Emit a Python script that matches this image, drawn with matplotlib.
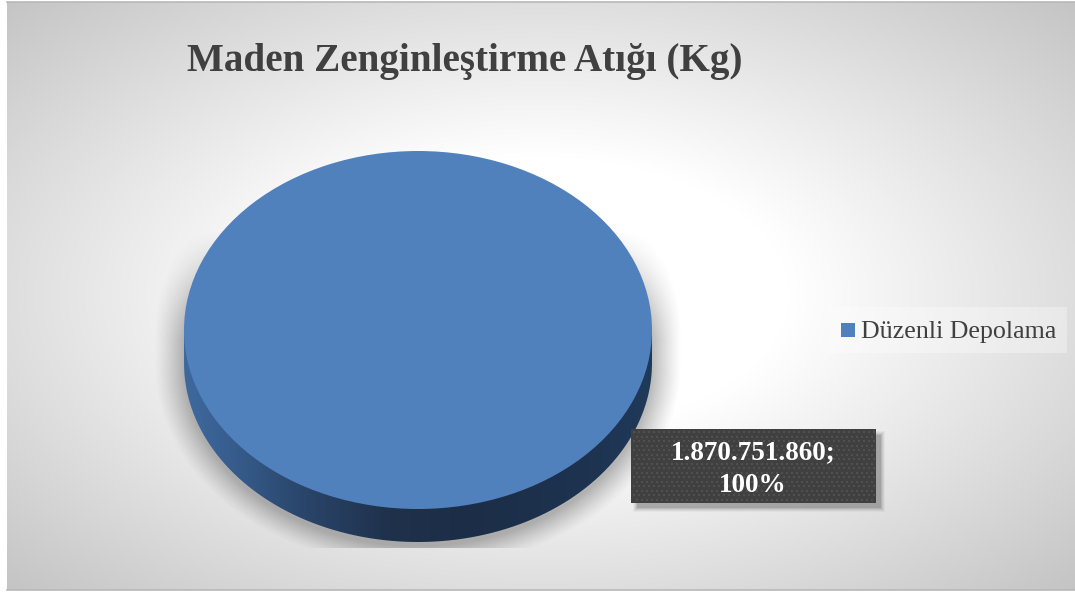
import numpy as np
import matplotlib
matplotlib.use("Agg")
import matplotlib.pyplot as plt
from matplotlib.patches import Rectangle, PathPatch
from matplotlib.path import Path

title = "Maden Zenginleştirme Atığı (Kg)"
categories = ["Düzenli Depolama"]
values = [1870751860]
percent_labels = ["100%"]
value_labels = ["1.870.751.860"]

W, H = 1075, 592
fig = plt.figure(figsize=(W / 100, H / 100), dpi=100, facecolor="white")
bg = fig.add_axes([0, 0, 1, 1])
bg.set_xlim(0, W)
bg.set_ylim(H, 0)
bg.axis("off")

# radial chart-area background
X, Y = np.meshgrid(np.arange(W) + .5, np.arange(H) + .5)
d = np.sqrt(((X - 541) / 534) ** 2 + ((Y - 295) / 295) ** 2) / np.sqrt(2)
g = 1 - np.clip((d - .33) / .67, 0, 1) * (1 - 0xc4 / 255)
rgb = np.dstack([g, g, g])
im = bg.imshow(rgb, extent=(0, W, H, 0), aspect="auto", zorder=0, interpolation="bilinear")
area = Rectangle((7, 1.5), W - 7 + 5, 588.5, transform=bg.transData, fc="none", ec="none")
bg.add_patch(area)
im.set_clip_path(area)
bg.plot([7, W], [1.5, 1.5], color="#b8b8b8", lw=1.2, zorder=1)
bg.plot([7, W], [590, 590], color="#b8b8b8", lw=1.2, zorder=1)

# pie geometry in pixels
cx, cy, rx, ry, depth = 418, 330, 234, 179, 33

# soft shadow under the disc
dy = Y - np.clip(Y, cy, cy + depth + 4)
r = np.sqrt(((X - cx) / rx) ** 2 + (dy / ry) ** 2)
sh = np.clip(1 - (r - 1) / .125, 0, 1) ** 1.2 * .36
sh *= np.clip((Y - 230) / 110, 0, 1)
sh[Y > 548] = 0
sa = np.zeros((H, W, 4))
sa[..., :3] = .25
sa[..., 3] = sh
bg.imshow(sa, extent=(0, W, H, 0), aspect="auto", zorder=2, interpolation="bilinear")

# extruded side of the pie with horizontal gradient
t = np.linspace(cx - rx, cx + rx, 468)
stops_x = [cx - rx, 235, 300, 390, 470, 590, cx + rx]
stops_r = [0x3f, 0x36, 0x2a, 0x1f, 0x1c, 0x1d, 0x20]
stops_g = [0x69, 0x5c, 0x46, 0x31, 0x2e, 0x33, 0x3a]
stops_b = [0x9e, 0x8c, 0x6c, 0x4b, 0x47, 0x50, 0x5a]
side = np.dstack([np.interp(t, stops_x, s)[None, :] / 255 for s in (stops_r, stops_g, stops_b)])
side_im = bg.imshow(side, extent=(cx - rx, cx + rx, cy + depth + ry, cy), aspect="auto", zorder=3)
theta = np.linspace(np.pi, 0, 200)
verts = np.column_stack([cx + rx * np.cos(theta), cy + depth + ry * np.sin(theta)])
verts = np.vstack([verts, [cx + rx, cy], [cx - rx, cy], verts[0]])
clip = PathPatch(Path(verts), transform=bg.transData, fc="none", ec="none")
bg.add_patch(clip)
side_im.set_clip_path(clip)

bg.set_xlim(0, W)
bg.set_ylim(H, 0)

# pie top: a real pie in a non-square axes gives the tilted ellipse
pie_ax = fig.add_axes([(cx - rx) / W, 1 - (cy + ry) / H, 2 * rx / W, 2 * ry / H], zorder=4)
wedges, _ = pie_ax.pie(values, colors=["#5081bd"], radius=1, startangle=90)
pie_ax.set_aspect("auto")
pie_ax.set_xlim(-1, 1)
pie_ax.set_ylim(-1, 1)
pie_ax.patch.set_alpha(0)

over = fig.add_axes([0, 0, 1, 1], zorder=5)
over.set_xlim(0, W)
over.set_ylim(H, 0)
over.axis("off")
over.patch.set_alpha(0)

# title
over.text(465, 62, title, ha="center", va="center", fontsize=28.2, fontweight="bold",
          family="Liberation Serif", color="#404040")

# legend
over.add_patch(Rectangle((829, 307), 238, 46, fc="white", ec="none", alpha=.33))
over.add_patch(Rectangle((841, 323), 14, 14, fc="#5081bd", ec="none"))
over.text(861, 332, categories[0], ha="left", va="center", fontsize=18.7,
          family="Liberation Serif", color="#404040")

# data label with drop shadow
bx, by, bw, bh = 631, 429, 245, 74
for i, a in zip(range(9, 0, -2), (.04, .06, .08, .10, .14)):
    over.add_patch(Rectangle((bx + 4 - i / 2 + 2, by + 4 - i / 2 + 2), bw + i - 2, bh + i - 2,
                             fc="#303030", ec="none", alpha=a))
over.add_patch(Rectangle((bx, by), bw, bh, fc="#404040", ec="none"))
xs, ys = [], []
for row, yy in enumerate(np.arange(by + 3, by + bh, 4.5)):
    for xx in np.arange(bx + 3 + (row % 2) * 2.5, bx + bw, 5):
        xs.append(xx)
        ys.append(yy)
over.scatter(xs, ys, s=1.4, c="#505050", linewidths=0, marker="s")
over.text(bx + bw / 2 - 0.5, by + bh / 2 + 3, f"{value_labels[0]};\n{percent_labels[0]}", ha="center", va="center",
          fontsize=19.5, fontweight="bold", family="Liberation Serif", color="white", linespacing=1.42)

fig.savefig("out.png", dpi=100)
